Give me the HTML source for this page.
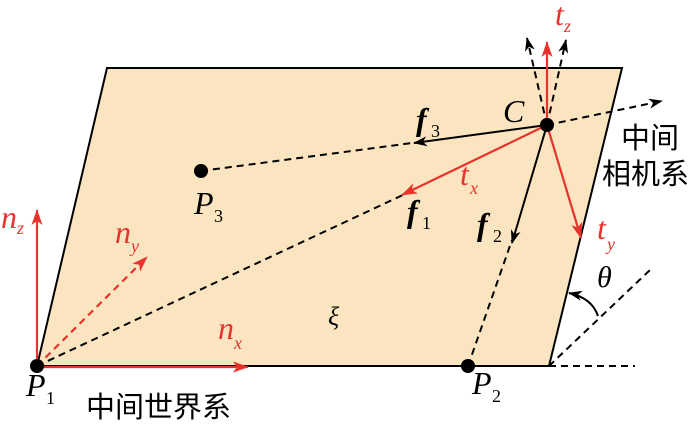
<!DOCTYPE html>
<html><head><meta charset="utf-8"><style>html,body{margin:0;padding:0;background:#fff}svg{display:block}
.i{font-family:"Liberation Serif",serif;font-style:italic}
.b{font-family:"Liberation Serif",serif;font-style:italic;font-weight:bold}
.s{font-family:"Liberation Serif",serif}
.cn{font-family:"Liberation Sans","Noto Sans CJK SC",sans-serif}
</style></head><body>
<svg width="700" height="426" viewBox="0 0 700 426" xmlns="http://www.w3.org/2000/svg">
<defs>
<marker id="ab" markerWidth="14" markerHeight="10" refX="13" refY="5" orient="auto" markerUnits="userSpaceOnUse"><path d="M0,0 L14,5 L0,10 L4,5z" fill="#000"/></marker>
<marker id="ar" markerWidth="16" markerHeight="11" refX="15" refY="5.5" orient="auto" markerUnits="userSpaceOnUse"><path d="M0,0 L16,5.5 L0,11 L4,5.5z" fill="#e8322c"/></marker>
</defs>
<polygon points="107,68 622,68 549,366 37,366" fill="#fbe5c0" stroke="#000" stroke-width="2"/>
<g stroke="#000" stroke-width="2" stroke-dasharray="7,5" fill="none">
<line x1="37" y1="366" x2="405" y2="194"/>
<line x1="201" y1="171" x2="412" y2="143"/>
<line x1="468" y1="366" x2="512" y2="240"/>
<line x1="549" y1="366" x2="635" y2="366"/>
<line x1="549" y1="366" x2="650" y2="270"/>
<line x1="547" y1="125" x2="527" y2="38" marker-end="url(#ab)"/>
<line x1="547" y1="125" x2="566" y2="40" marker-end="url(#ab)"/>
<line x1="547" y1="125" x2="662" y2="101" marker-end="url(#ab)"/>
</g>
<g stroke="#000" stroke-width="2" fill="none">
<line x1="547" y1="125" x2="414" y2="143" marker-end="url(#ab)"/>
<line x1="547" y1="125" x2="512" y2="243" marker-end="url(#ab)"/>
<path d="M598,316 Q592,298 569,293" marker-end="url(#ab)"/>
</g>
<g stroke="#e8322c" stroke-width="2.2" fill="none">
<line x1="547" y1="125" x2="402" y2="195" marker-end="url(#ar)"/>
<line x1="547" y1="125" x2="547" y2="42" marker-end="url(#ar)"/>
<line x1="547" y1="125" x2="581" y2="238" marker-end="url(#ar)"/>
<line x1="37" y1="366" x2="37" y2="210" marker-end="url(#ar)"/>
<line x1="37" y1="367" x2="248" y2="367" marker-end="url(#ar)"/>
<line x1="37" y1="366" x2="147" y2="257" stroke-dasharray="7,5" marker-end="url(#ar)"/>
</g>
<circle cx="37" cy="366" r="7" fill="#000"/>
<circle cx="468" cy="366" r="7" fill="#000"/>
<circle cx="201" cy="171" r="7" fill="#000"/>
<circle cx="547" cy="125" r="7" fill="#000"/>
<g font-size="32">
<text x="194" y="214" class="i">P</text><text x="214" y="222" class="s" font-size="18">3</text>
<text x="26" y="396" class="i">P</text><text x="46" y="404" class="s" font-size="18">1</text>
<text x="472" y="394" class="i">P</text><text x="492" y="402" class="s" font-size="18">2</text>
<text x="503" y="122" class="i">C</text>
<text x="328" y="325" class="i" font-size="26">ξ</text>
<text x="597" y="287" class="i" font-size="30">θ</text>
<text x="416" y="130" class="b">f</text><text x="431" y="137" class="s" font-size="18">3</text>
<text x="407" y="222" class="b">f</text><text x="422" y="229" class="s" font-size="18">1</text>
<text x="477" y="235" class="b">f</text><text x="493" y="242" class="s" font-size="18">2</text>
<g fill="#e8322c">
<text x="1" y="228" class="i">n</text><text x="17" y="234" class="i" font-size="18">z</text>
<text x="115" y="243" class="i">n</text><text x="131" y="252" class="i" font-size="18">y</text>
<text x="218" y="339" class="i">n</text><text x="234" y="349" class="i" font-size="18">x</text>
<text x="555" y="25" class="i">t</text><text x="564" y="32" class="i" font-size="18">z</text>
<text x="460" y="185" class="i">t</text><text x="470" y="194" class="i" font-size="18">x</text>
<text x="597" y="239" class="i">t</text><text x="607" y="250" class="i" font-size="18">y</text>
</g>
</g>
<g class="cn" font-size="29" fill="#000">
<text x="86" y="417">中间世界系</text>
<text x="621" y="148">中间</text>
<text x="602" y="184">相机系</text>
</g>
</svg>
</body></html>
